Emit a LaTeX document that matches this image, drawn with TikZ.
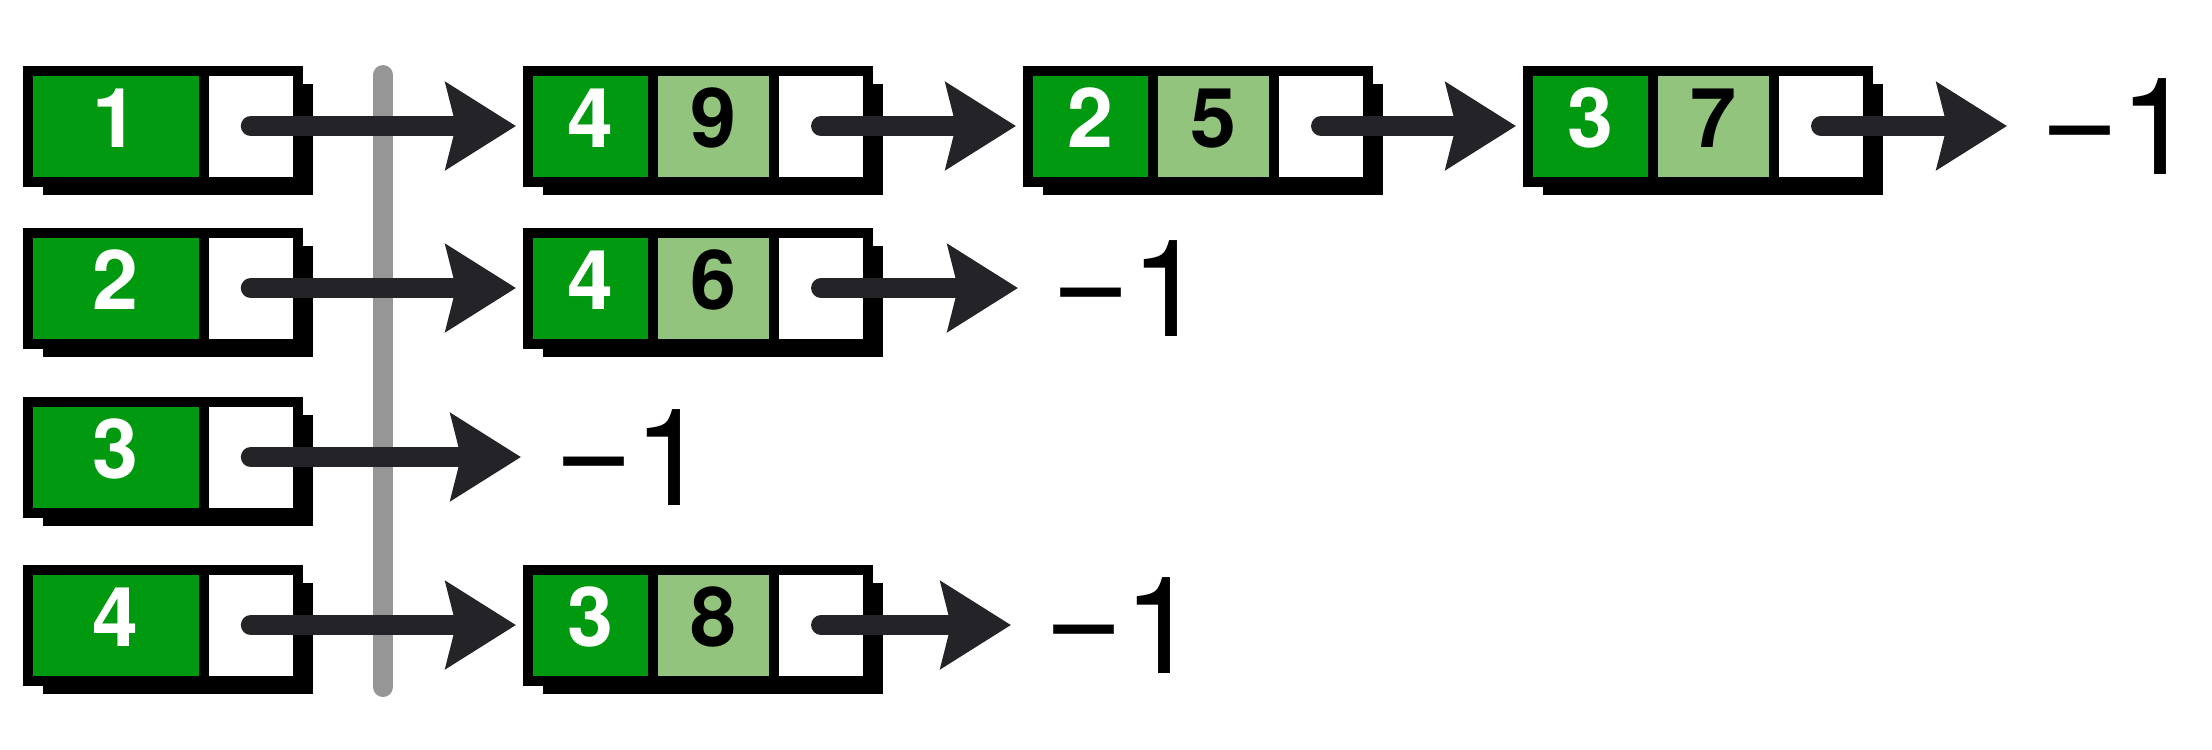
\documentclass[tikz,border=0pt]{standalone}
\usepackage{fontspec}
\setmainfont{TeX Gyre Heros}
\usepackage{xcolor}
\usepackage{tikz}
\usetikzlibrary{arrows.meta,positioning,shadows}

\definecolor{keygreen}{RGB}{0,153,15}
\definecolor{wgreen}{RGB}{147,196,125}
\definecolor{arrowink}{RGB}{35,35,40}
\definecolor{sepgray}{RGB}{150,150,150}

\newcommand{\nilval}{\raisebox{0.1cm}{−}1}

\begin{document}
\begin{tikzpicture}[
    cell/.style={rectangle, draw=black, line width=0.1cm, outer sep=0pt, inner sep=0pt, minimum height=1.11cm, text centered, text height=0.58cm, text depth=0.16cm, font=\fontsize{23.5}{23.5}\selectfont\bfseries, drop shadow={shadow xshift=0.15cm, shadow yshift=-0.13cm, opacity=1, fill=black}},
    keycell/.style={cell, fill=keygreen, text=white, minimum width=#1},
    wcell/.style={cell, fill=wgreen, text=black, minimum width=1.21cm},
    ptrcell/.style={cell, fill=white, minimum width=#1},
    nil/.style={inner sep=0pt, outer sep=0pt, text height=0.97cm, text depth=0cm, font=\fontsize{38.5}{38.5}\selectfont},
    link/.style={draw=arrowink, line width=0.2cm, line cap=round, -{Stealth[length=0.7cm, width=0.86cm, inset=0.1cm]}, shorten >=0.12cm},
    endlink/.style={link, shorten >=0.33cm},
    sep/.style={draw=sepgray, line width=0.2cm, line cap=round}
]
    \useasboundingbox (0,0) rectangle (22.12,-7.49);

    % Separator
    \coordinate (septop) at (3.83,-0.75);
    \coordinate (sepbot) at (3.83,-6.87);
    \path [sep] (septop) -- (sepbot);

    % Head array
    \node[keycell=1.755cm] (head1) at (1.158,-1.26) {1};
    \node[ptrcell=0.945cm, right=0pt of head1] (ptr1) {};
    \node[keycell=1.755cm] (head2) at (1.158,-2.88) {2};
    \node[ptrcell=0.945cm, right=0pt of head2] (ptr2) {};
    \node[keycell=1.755cm] (head3) at (1.158,-4.57) {3};
    \node[ptrcell=0.945cm, right=0pt of head3] (ptr3) {};
    \node[keycell=1.755cm] (head4) at (1.158,-6.25) {4};
    \node[ptrcell=0.945cm, right=0pt of head4] (ptr4) {};

    % Edges of 1
    \node[keycell=1.25cm, right=2.3cm of ptr1] (to1) {4};
    \node[wcell, right=0pt of to1] (w1) {9};
    \node[ptrcell=0.94cm, right=0pt of w1] (nxt1) {};
    \node[keycell=1.25cm, right=1.6cm of nxt1] (to2) {2};
    \node[wcell, right=0pt of to2] (w2) {5};
    \node[ptrcell=0.94cm, right=0pt of w2] (nxt2) {};
    \node[keycell=1.25cm, right=1.6cm of nxt2] (to3) {3};
    \node[wcell, right=0pt of to3] (w3) {7};
    \node[ptrcell=0.94cm, right=0pt of w3] (nxt3) {};
    \node[nil, right=1.72cm of nxt3] (nil1) {\nilval};

    % Edges of 2
    \node[keycell=1.25cm, right=2.3cm of ptr2] (to4) {4};
    \node[wcell, right=0pt of to4] (w4) {6};
    \node[ptrcell=0.94cm, right=0pt of w4] (nxt4) {};
    \node[nil, right=1.83cm of nxt4] (nil2) {\nilval};

    % Edges of 3
    \node[nil, right=2.56cm of ptr3] (nil3) {\nilval};

    % Edges of 4
    \node[keycell=1.25cm, right=2.3cm of ptr4] (to5) {3};
    \node[wcell, right=0pt of to5] (w5) {8};
    \node[ptrcell=0.94cm, right=0pt of w5] (nxt5) {};
    \node[nil, right=1.76cm of nxt5] (nil4) {\nilval};

    % Links
    \path [link] (ptr1.center) -- (to1.west);
    \path [link] (nxt1.center) -- (to2.west);
    \path [link] (nxt2.center) -- (to3.west);
    \path [endlink] (nxt3.center) -- (nil1.west);
    \path [link] (ptr2.center) -- (to4.west);
    \path [endlink] (nxt4.center) -- (nil2.west);
    \path [endlink] (ptr3.center) -- (nil3.west);
    \path [link] (ptr4.center) -- (to5.west);
    \path [endlink] (nxt5.center) -- (nil4.west);

\end{tikzpicture}
\end{document}
